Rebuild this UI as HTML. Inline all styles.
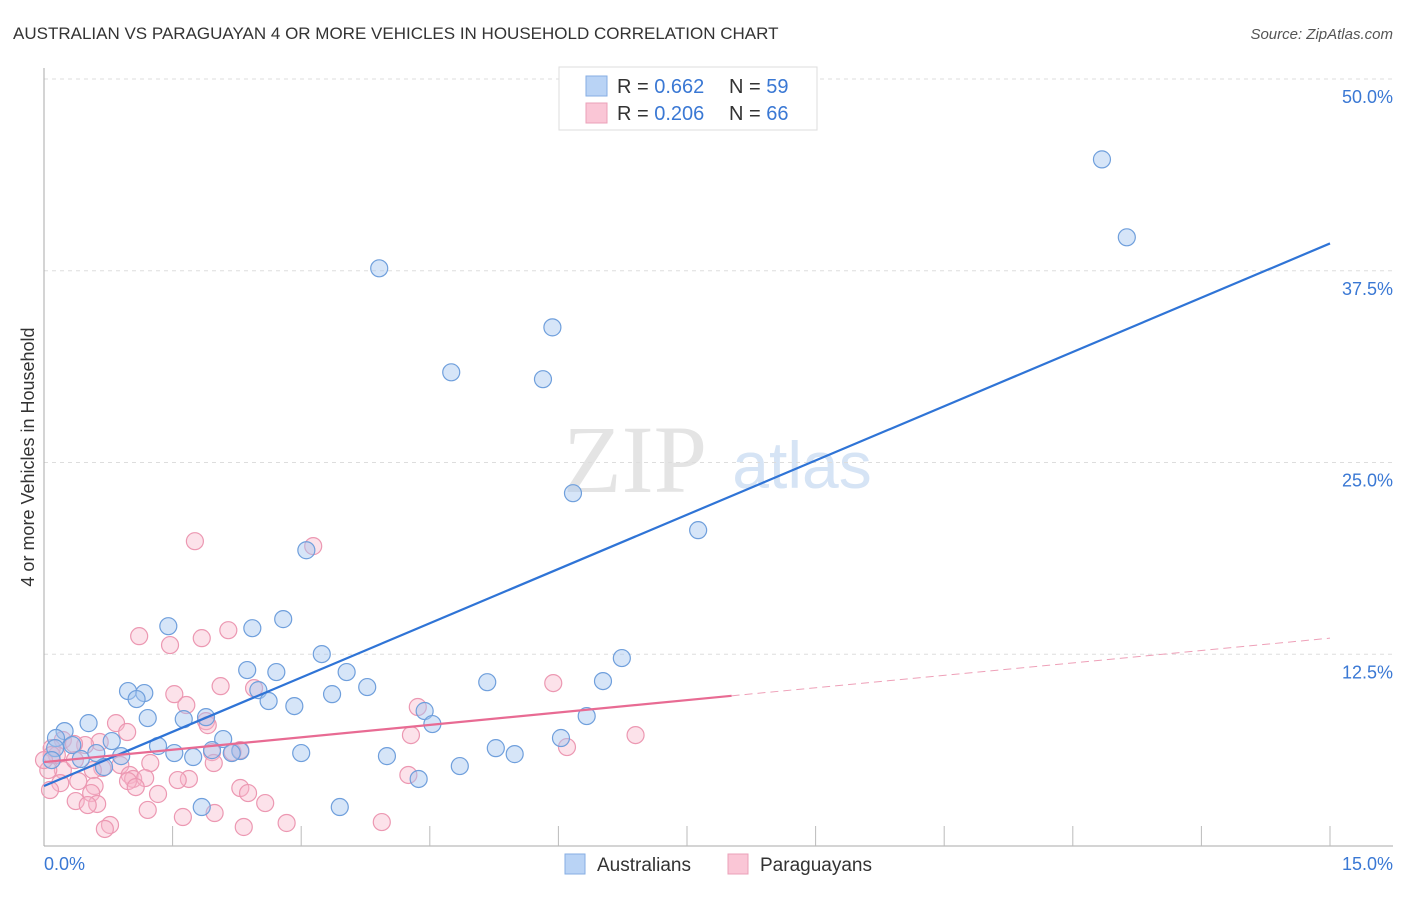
<!DOCTYPE html>
<html><head><meta charset="utf-8"><style>
body{margin:0;background:#fff;width:1406px;height:892px;overflow:hidden;font-family:"Liberation Sans",sans-serif}
</style></head><body>
<svg id="chart" width="1406" height="892" xmlns="http://www.w3.org/2000/svg">
<text x="13" y="39" font-size="17" fill="#333">AUSTRALIAN VS PARAGUAYAN 4 OR MORE VEHICLES IN HOUSEHOLD CORRELATION CHART</text>
<text x="1393" y="39" font-size="15" fill="#555" font-style="italic" text-anchor="end">Source: ZipAtlas.com</text>
<text x="635" y="492" font-size="96" font-family="Liberation Serif,serif" fill="#e4e4e4" text-anchor="middle">ZIP</text>
<text x="802" y="488" font-size="66" fill="#d6e4f5" text-anchor="middle">atlas</text>
<text transform="translate(34,457) rotate(-90)" font-size="18" fill="#333" text-anchor="middle">4 or more Vehicles in Household</text>
<g id="grid"></g><g id="axes"></g><g id="pts"></g><g id="lines"></g>
<g>
<rect x="559" y="67" width="258" height="63" fill="#fff" stroke="#ddd"/>
<rect x="586" y="76" width="21" height="20" fill="#b9d3f5" stroke="#86aee3"/>
<rect x="586" y="103" width="21" height="20" fill="#fac6d6" stroke="#eba0b8"/>
<text x="617" y="93" font-size="20" fill="#333">R = <tspan fill="#3a78d4">0.662</tspan><tspan x="729">N = </tspan><tspan fill="#3a78d4">59</tspan></text>
<text x="617" y="120" font-size="20" fill="#333">R = <tspan fill="#3a78d4">0.206</tspan><tspan x="729">N = </tspan><tspan fill="#3a78d4">66</tspan></text>
</g>
<g>
<rect x="565" y="854" width="20" height="20" fill="#b9d3f5" stroke="#86aee3"/>
<text x="597" y="871" font-size="19" fill="#333">Australians</text>
<rect x="728" y="854" width="20" height="20" fill="#fac6d6" stroke="#eba0b8"/>
<text x="760" y="871" font-size="19" fill="#333">Paraguayans</text>
</g>
</svg>
<script>
const yTicks=[12.5,25,37.5,50];
const yTickLabels=["12.5%","25.0%","37.5%","50.0%"];
const xTicks=[1.5,3,4.5,6,7.5,9,10.5,12,13.5,15];
const xMin=0,xMax=15,yMin=0,yMax=50;
const ausX=[12.34,12.63,3.91,5.93,4.75,5.82,6.17,7.63,3.06,2.79,1.45,2.43,3.24,6.74,2.37,2.71,3.53,5.17,6.52,0.98,1.17,3.77,2.5,1.08,3.36,2.62,2.92,1.21,1.63,1.89,6.33,4.44,4.53,0.52,0.24,0.14,0.79,2.09,6.03,1.33,0.33,0.13,1.96,0.61,2.29,2.19,5.27,1.52,3.0,1.74,0.9,5.49,4.0,0.43,0.09,4.85,0.7,4.37,1.84,3.45];
const ausY=[44.76,39.68,37.66,33.81,30.88,30.43,23.0,20.59,19.28,14.79,14.33,14.2,12.51,12.25,11.47,11.34,11.34,10.68,10.75,10.1,9.97,10.36,10.16,9.58,9.9,9.45,9.12,8.34,8.27,8.4,8.47,8.8,7.95,8.01,7.49,7.04,6.84,6.97,7.04,6.52,6.58,6.38,6.25,6.06,6.19,6.06,6.38,6.06,6.06,5.8,5.86,5.99,5.86,5.67,5.6,5.21,5.15,4.37,2.54,2.54];
const parX=[1.76,3.14,1.11,2.15,1.84,1.47,2.06,5.94,2.45,1.52,1.66,4.36,1.89,1.91,0.84,0.97,4.28,6.9,0.65,0.48,6.1,1.96,2.2,2.29,0.22,0.35,0.09,0.15,1.24,1.98,0.89,0.22,0.68,0.57,0.05,1.0,1.04,1.18,1.69,1.56,0.98,4.25,0.4,1.07,2.29,2.38,0.59,0.19,0.07,1.33,0.55,2.58,0.37,0.62,0.51,1.21,1.62,1.99,0.77,0.71,2.33,2.83,3.94,0.09,0.36,0.0];
const parY=[19.87,19.55,13.68,14.07,13.55,13.1,10.42,10.62,10.29,9.9,9.19,9.06,8.14,7.88,8.01,7.43,7.23,7.23,6.78,6.58,6.45,6.12,6.12,6.25,6.91,6.65,6.38,5.93,5.41,5.41,5.28,4.95,5.08,4.95,4.95,4.63,4.37,4.43,4.37,4.3,4.23,4.63,4.23,3.84,3.78,3.45,3.91,4.1,3.65,3.39,3.45,2.8,2.93,2.74,2.67,2.35,1.89,2.15,1.37,1.11,1.24,1.5,1.56,5.93,5.6,5.6];
const ausTrend=[3.91,39.28];
const parTrend=[5.47,13.55];
const parSolidEnd=8.02;
const L=44,R=1330,T=79,B=846;
const sx=v=>L+(v-xMin)/(xMax-xMin)*(R-L);
const sy=v=>B-(v-yMin)/(yMax-yMin)*(B-T);
const NS="http://www.w3.org/2000/svg";
function mk(tag,attrs,parent){const e=document.createElementNS(NS,tag);for(const k in attrs)e.setAttribute(k,attrs[k]);parent.appendChild(e);return e;}
const grid=document.getElementById('grid'),axes=document.getElementById('axes'),pts=document.getElementById('pts'),lines=document.getElementById('lines');
yTicks.forEach((t,i)=>{
 const g=mk('line',{x1:L,x2:1393,y1:sy(t),y2:sy(t),stroke:'#ddd','stroke-dasharray':'4 4'},grid);
 
 
 const tx=mk('text',{x:1393,y:sy(t)+24,'font-size':18,fill:'#3a78d4','text-anchor':'end'},grid);
 tx.textContent=yTickLabels[i];
 
 
});
const ya=mk('line',{x1:L,x2:L,y1:68,y2:B,stroke:'#aaa'},axes);


const xa=mk('line',{x1:L,x2:1393,y1:B,y2:B,stroke:'#aaa'},axes);


xTicks.forEach(t=>{
 const tk=mk('line',{x1:sx(t),x2:sx(t),y1:826,y2:B,stroke:'#bbb'},axes);
 
 
});
const x0=mk('text',{x:44,y:870,'font-size':18,fill:'#3a78d4'},axes);x0.textContent='0.0%';


const x1=mk('text',{x:1393,y:870,'font-size':18,fill:'#3a78d4','text-anchor':'end'},axes);x1.textContent='15.0%';


parX.forEach((v,i)=>{
 const c=mk('circle',{cx:sx(v),cy:sy(parY[i]),r:8.5,fill:'rgba(248,182,202,0.4)',stroke:'#ec98b2','stroke-width':1.2},pts);
 
 
});
ausX.forEach((v,i)=>{
 const c=mk('circle',{cx:sx(v),cy:sy(ausY[i]),r:8.5,fill:'rgba(164,198,240,0.45)',stroke:'#6f9fdc','stroke-width':1.2},pts);
 
 
});
const bl=mk('line',{x1:sx(0),y1:sy(ausTrend[0]),x2:sx(15),y2:sy(ausTrend[1]),stroke:'#2f74d6','stroke-width':2.2},lines);


const pAt=x=>parTrend[0]+(parTrend[1]-parTrend[0])*x/15;
const pl=mk('line',{x1:sx(0),y1:sy(pAt(0)),x2:sx(parSolidEnd),y2:sy(pAt(parSolidEnd)),stroke:'#e86b93','stroke-width':2.2},lines);


const pd=mk('line',{x1:sx(parSolidEnd),y1:sy(pAt(parSolidEnd)),x2:sx(15),y2:sy(pAt(15)),stroke:'#eea0b8','stroke-width':1,'stroke-dasharray':'8 5'},lines);


</script>
</body></html>
